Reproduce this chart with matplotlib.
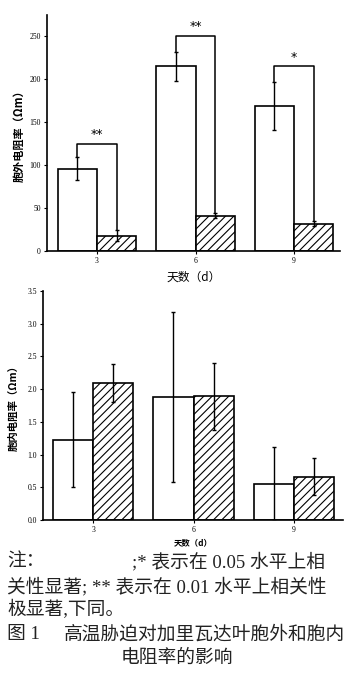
import numpy as np
import matplotlib
matplotlib.use("Agg")
import matplotlib.pyplot as plt

plt.rcParams['font.family'] = ['Liberation Serif', 'Noto Sans CJK SC']
plt.rcParams['hatch.linewidth'] = 0.8

# 天数
days = ['3', '6', '9']

# 胞外电阻率 (Ωm)
ext_ctrl = [96, 215, 169]
ext_ctrl_err = [13, 17, 28]
ext_heat = [18, 41, 32]
ext_heat_err = [6, 3, 3]
sig_marks = ['**', '**', '*']
sig_tops = [125, 251, 215]

# 胞内电阻率 (Ωm)
int_ctrl = [1.23, 1.88, 0.55]
int_ctrl_err = [0.72, 1.30, 0.56]
int_heat = [2.09, 1.89, 0.66]
int_heat_err = [0.29, 0.51, 0.28]

note1 = ";* 表示在 0.05 水平上相"
note2 = "关性显著; ** 表示在 0.01 水平上相关性"
note3 = "极显著,下同。"
cap1 = "高温胁迫对加里瓦达叶胞外和胞内"
cap2 = "电阻率的影响"

W, H = 353, 688
fig = plt.figure(figsize=(W / 100, H / 100), dpi=100)

x = np.arange(len(days))
bw = 0.4
cjk = ['Noto Sans CJK SC', 'DejaVu Sans']


def style_axes(ax):
    for s in ['top', 'right']:
        ax.spines[s].set_visible(False)
    for s in ['left', 'bottom']:
        ax.spines[s].set_linewidth(1.2)
    ax.tick_params(axis='both', labelsize=5.5, length=2.5, width=0.8, pad=2)
    ax.set_xticks(x)
    ax.set_xticklabels(days)


# ---- 上图：胞外电阻率
ax1 = fig.add_axes([47 / W, 1 - 251 / H, (340 - 47) / W, (251 - 15) / H])
ax1.bar(x - bw / 2, ext_ctrl, bw, color='white', edgecolor='black', linewidth=1.2)
ax1.bar(x + bw / 2, ext_heat, bw, color='white', edgecolor='black', linewidth=1.2, hatch='////')
ax1.errorbar(x - bw / 2, ext_ctrl, yerr=ext_ctrl_err, fmt='none', ecolor='black',
             elinewidth=1, capsize=1.5, capthick=1)
ax1.errorbar(x + bw / 2, ext_heat, yerr=ext_heat_err, fmt='none', ecolor='black',
             elinewidth=1, capsize=1.5, capthick=1)
for i in range(len(days)):
    lo = ext_ctrl[i] + ext_ctrl_err[i]
    ro = ext_heat[i] + ext_heat_err[i]
    xl, xr = x[i] - bw / 2, x[i] + bw / 2
    ax1.plot([xl, xl, xr, xr], [lo, sig_tops[i], sig_tops[i], ro], color='black', lw=1.1)
    ax1.text(x[i], sig_tops[i] + 3, sig_marks[i], ha='center', va='bottom', fontsize=9,
             family='DejaVu Sans')
ax1.set_xlim(-0.508, 2.467)
ax1.set_ylim(0, 275)
ax1.set_yticks([0, 50, 100, 150, 200, 250])
style_axes(ax1)
ax1.set_ylabel('胞外电阻率（Ωm）', family=cjk, fontsize=8, fontweight='bold', labelpad=3)
ax1.set_xlabel('天数（d）', family=cjk, fontsize=8.5, labelpad=4)

# ---- 下图：胞内电阻率
ax2 = fig.add_axes([43 / W, 1 - 520 / H, (343 - 43) / W, (520 - 291) / H])
ax2.bar(x - bw / 2, int_ctrl, bw, color='white', edgecolor='black', linewidth=1.2)
ax2.bar(x + bw / 2, int_heat, bw, color='white', edgecolor='black', linewidth=1.2, hatch='////')
ax2.errorbar(x - bw / 2, int_ctrl, yerr=int_ctrl_err, fmt='none', ecolor='black',
             elinewidth=1, capsize=1.5, capthick=1)
ax2.errorbar(x + bw / 2, int_heat, yerr=int_heat_err, fmt='none', ecolor='black',
             elinewidth=1, capsize=1.5, capthick=1)
ax2.set_xlim(-0.5, 2.49)
ax2.set_ylim(0, 3.5)
ax2.set_yticks(np.arange(0, 3.51, 0.5))
ax2.set_yticklabels(['%.1f' % v for v in np.arange(0, 3.51, 0.5)])
style_axes(ax2)
ax2.set_ylabel('胞内电阻率（Ωm）', family=cjk, fontsize=7.5, fontweight='bold', labelpad=6)
ax2.set_xlabel('天数（d）', family=cjk, fontsize=6, fontweight='bold', labelpad=3)

# ---- 注释与图题
tf = ['Liberation Serif', 'Noto Sans CJK SC']
tc = '#222222'
fs = 13.5
fig.text(7 / W, 1 - 562 / H, "注：", fontsize=fs, family=tf, va='center', ha='left', color=tc)
fig.text(132 / W, 1 - 562 / H, note1, fontsize=fs, family=tf, va='center', ha='left', color=tc)
fig.text(7 / W, 1 - 587 / H, note2, fontsize=fs, family=tf, va='center', ha='left', color=tc)
fig.text(7 / W, 1 - 610 / H, note3, fontsize=fs, family=tf, va='center', ha='left', color=tc)
fig.text(7 / W, 1 - 635 / H, "图 1", fontsize=fs, family=tf, va='center', ha='left', color=tc)
fig.text(64 / W, 1 - 635 / H, cap1, fontsize=fs, family=tf, va='center', ha='left', color=tc)
fig.text(177 / W, 1 - 658 / H, cap2, fontsize=fs, family=tf, va='center', ha='center', color=tc)

fig.savefig('out.png', dpi=100)
